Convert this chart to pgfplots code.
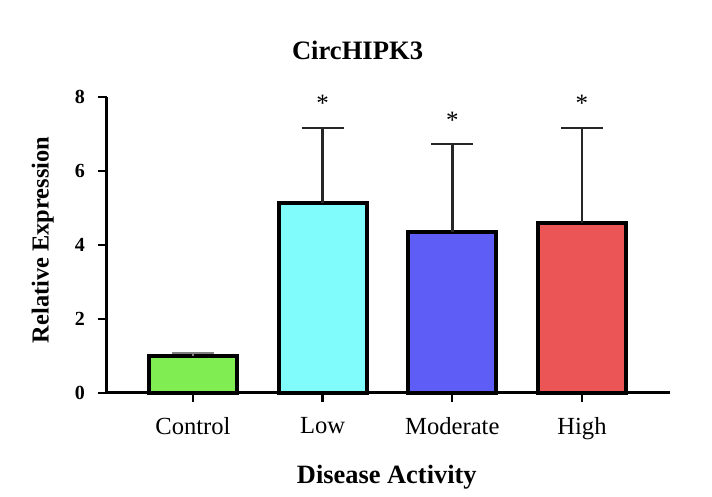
\documentclass[border=0pt]{standalone}
\usepackage{pgfplots}
\pgfplotsset{compat=1.18}
\usepackage{fontspec}
\setmainfont{Liberation Serif}
\definecolor{cgreen}{HTML}{80EE52}
\definecolor{ccyan}{HTML}{80FCFC}
\definecolor{cblue}{HTML}{5E5EF6}
\definecolor{cred}{HTML}{EC5555}
\begin{document}
\begin{tikzpicture}
\useasboundingbox (0,0) rectangle (356pt,248.5pt);
\begin{axis}[
  at={(53.5pt,52pt)}, anchor=south west,
  scale only axis, width=281.5pt, height=148pt,
  xmin=-0.663, xmax=3.679, ymin=0, ymax=8,
  axis lines*=left,
  axis line style={line width=1.5pt},
  ybar, bar width=44pt,
  xtick={0,1,2,3},
  xticklabels={Control,Low,Moderate,High},
  ytick={0,2,4,6,8},
  tick align=outside,
  major tick length=4.5pt,
  tick style={line width=1.2pt, black},
  /pgf/number format/assume math mode=true,
  yticklabel style={font=\fontsize{10}{12}\selectfont\bfseries, xshift=-3pt},
  xticklabel style={font=\fontsize{12.3}{14}\selectfont, yshift=-4pt},
  title={CircHIPK3},
  title style={font=\fontsize{13.3}{15}\selectfont\bfseries, at={(rel axis cs:0.445,1.118)}, anchor=center},
  xlabel={Disease Activity},
  xlabel style={font=\fontsize{13.2}{15}\selectfont\bfseries, at={(rel axis cs:0.497,-0.284)}, anchor=center},
  ylabel={Relative Expression},
  ylabel style={font=\fontsize{12.2}{14}\selectfont\bfseries, at={(rel axis cs:-0.114,0.517)}, anchor=center},
  clip=false,
]
\addplot+[bar shift=0pt, draw=black, line width=2pt, fill=cgreen,
  error bars/.cd, y dir=plus, y explicit,
  error bar style={line width=1pt, gray},
  error mark options={rotate=90, mark size=10.5pt, line width=1pt, gray}]
  coordinates {(0,1.0) +- (0,0.09)};
\addplot+[bar shift=0pt, draw=black, line width=2pt, fill=ccyan,
  error bars/.cd, y dir=plus, y explicit,
  error bar style={line width=1.3pt, black!85},
  error mark options={rotate=90, mark size=10.5pt, line width=1.3pt, black!85}]
  coordinates {(1,5.14) +- (0,2.02)};
\addplot+[bar shift=0pt, draw=black, line width=2pt, fill=cblue,
  error bars/.cd, y dir=plus, y explicit,
  error bar style={line width=1.3pt, black!85},
  error mark options={rotate=90, mark size=10.5pt, line width=1.3pt, black!85}]
  coordinates {(2,4.35) +- (0,2.38)};
\addplot+[bar shift=0pt, draw=black, line width=2pt, fill=cred,
  error bars/.cd, y dir=plus, y explicit,
  error bar style={line width=1.3pt, black!85},
  error mark options={rotate=90, mark size=10.5pt, line width=1.3pt, black!85}]
  coordinates {(3,4.59) +- (0,2.57)};
\node[anchor=base, font=\fontsize{12.5}{14}\selectfont] at (axis cs:1,7.6) {*};
\node[anchor=base, font=\fontsize{12.5}{14}\selectfont] at (axis cs:2,7.15) {*};
\node[anchor=base, font=\fontsize{12.5}{14}\selectfont] at (axis cs:3,7.6) {*};
\end{axis}
\end{tikzpicture}
\end{document}
